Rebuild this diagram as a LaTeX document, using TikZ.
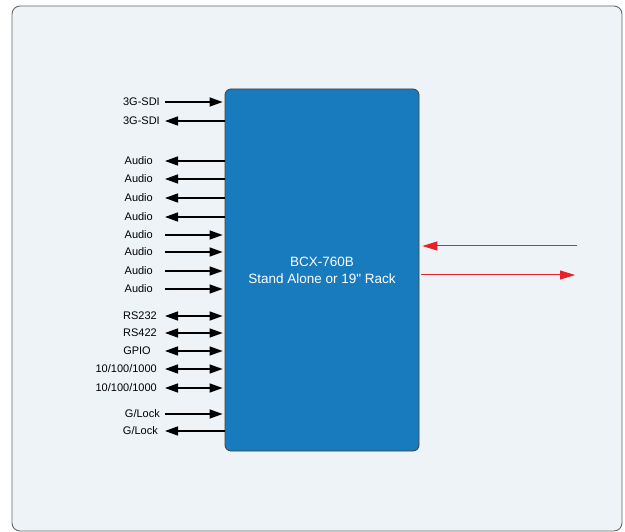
\documentclass[tikz,border=0pt]{standalone}
\usepackage{fontspec}
\setmainfont{Liberation Sans}[Ligatures=TeXOff]
\usetikzlibrary{arrows.meta}
\definecolor{panelbg}{RGB}{238,243,248}
\definecolor{boxblue}{RGB}{24,123,190}
\definecolor{sigred}{RGB}{232,32,40}

\tikzset{
  sigline/.style={line width=1.3pt,black},
  toUnit/.style={sigline,-{Triangle[length=13pt,width=9pt]},shorten >=2pt},
  fromUnit/.style={sigline,{Triangle[length=13pt,width=9pt]}-},
  bothWays/.style={sigline,{Triangle[length=13pt,width=9pt]}-{Triangle[length=13pt,width=9pt]},shorten >=2pt},
  redsig/.style={line width=1pt,sigred,-{Triangle[length=15pt,width=9pt]}},
  lbl/.style={anchor=east,inner sep=0pt,font=\fontsize{11}{12}\selectfont},
  unitbox/.style={draw=black!75,line width=0.8pt,fill=boxblue,rounded corners=6pt,
    minimum width=194pt,minimum height=362pt,text=white,align=center,
    font=\fontsize{13.5}{17}\selectfont}
}

\begin{document}
\begin{tikzpicture}[x=1pt,y=-1pt]
  \useasboundingbox (0,0) rectangle (625,532);
  \draw[rounded corners=8pt,fill=panelbg,draw=black!60,line width=0.9pt] (12,6) rectangle (622,531);

  \node[unitbox] (unit) at (322,270) {BCX-760B\\Stand Alone or 19" Rack};

  \foreach \y/\txt/\dir/\rx [count=\i] in {
      102/3G-SDI/toUnit/160, 121/3G-SDI/fromUnit/160,
      161/Audio/fromUnit/153, 179/Audio/fromUnit/153,
      198/Audio/fromUnit/153, 217/Audio/fromUnit/153,
      235/Audio/toUnit/153, 252/Audio/toUnit/153,
      271/Audio/toUnit/153, 289/Audio/toUnit/153,
      316/RS232/bothWays/157, 333/RS422/bothWays/157,
      351/GPIO/bothWays/151, 369/10\slash 100\slash 1000/bothWays/157,
      388/10\slash 100\slash 1000/bothWays/157,
      414/G\slash Lock/toUnit/160, 431/G\slash Lock/fromUnit/158}{
    \coordinate (s\i) at (165,\y);
    \node[lbl] (l\i) at (\rx,\y) {\txt};
    \draw[\dir] (s\i) -- (s\i -| unit.west);
  }

  \coordinate (r1) at (577,246);
  \coordinate (r2) at (575,275);
  \draw[redsig,shorten >=3pt] (r1) -- (r1 -| unit.east);
  \draw[redsig,shorten <=2pt] (r2 -| unit.east) -- (r2);
\end{tikzpicture}
\end{document}
